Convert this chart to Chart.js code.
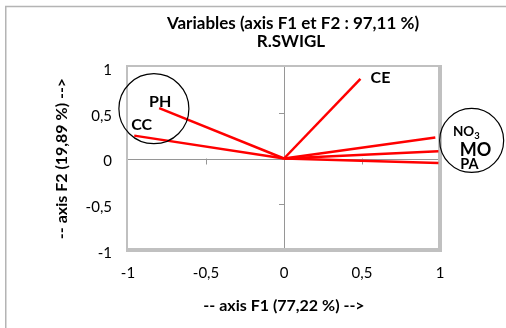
<!DOCTYPE html>
<html><head><meta charset="utf-8">
<script src="https://cdn.jsdelivr.net/npm/chart.js@4"></script>
<style>html,body{margin:0;padding:0;background:#fff}#wrap{width:506px;height:328px}</style>
</head><body><div id="wrap"><canvas id="c" width="506" height="328"></canvas></div>
<script>
// ---- data ----
const variables = ['PH', 'CC', 'CE', 'NO3', 'MO', 'PA'];
const f1 = [-0.80, -0.96, 0.49, 0.97, 0.99, 0.99];
const f2 = [0.55, 0.25, 0.87, 0.23, 0.08, -0.05];
const xTicks = [-1, -0.5, 0, 0.5, 1];
const yTicks = [-1, -0.5, 0, 0.5, 1];
const titleLines = ['Variables (axis F1 et F2 : 97,11 %)', 'R.SWIGL'];
const xTitle = '-- axis F1 (77,22 %) -->';
const yTitle = '-- axis F2 (19,89 %) -->';

// ---- styles ----
const FONT = 'Lato, "Open Sans", sans-serif';
const labelStyle = {
  PH: {dx: 1, dy: -6, size: 16},
  CC: {dx: 7.5, dy: -11, size: 16},
  CE: {dx: 20, dy: -1, size: 16},
  NO3: {dx: 31, dy: -6, size: 13.5},
  MO: {dx: 37, dy: -1, size: 18},
  PA: {dx: 31, dy: 1.5, size: 14.5}
};
const circles = [
  {cx: -0.834, cy: 0.544, r: 35},
  {cx: 1.203, cy: 0.197, r: 32}
];

const fmt = v => String(v).replace('.', ',');

const datasets = variables.map((name, i) => ({
  label: name,
  data: [{x: 0, y: 0}, {x: f1[i], y: f2[i]}],
  showLine: true,
  borderColor: '#ff0000',
  borderWidth: 2.5,
  pointRadius: 0,
  fill: false
}));

const decor = {
  id: 'decor',
  beforeDraw(chart) {
    const ctx = chart.ctx;
    ctx.save();
    ctx.fillStyle = '#fff';
    ctx.fillRect(0, 0, chart.width, chart.height);
    // outer chart border (top + left)
    ctx.strokeStyle = '#b4b4b4';
    ctx.lineWidth = 1.5;
    ctx.beginPath();
    ctx.moveTo(5.75, chart.height);
    ctx.lineTo(5.75, 6.5);
    ctx.lineTo(chart.width, 6.5);
    ctx.stroke();
    // title
    ctx.fillStyle = '#000';
    ctx.textAlign = 'center';
    ctx.textBaseline = 'alphabetic';
    ctx.font = 'bold 17px ' + FONT;
    ctx.fillText(titleLines[0], 293, 29);
    ctx.fillText(titleLines[1], 291, 47);
    ctx.restore();
  },
  beforeDatasetsDraw(chart) {
    const ctx = chart.ctx, xs = chart.scales.x, ys = chart.scales.y;
    const a = chart.chartArea;
    const x0 = xs.getPixelForValue(0), y0 = ys.getPixelForValue(0);
    ctx.save();
    // plot border
    ctx.strokeStyle = '#c0c0c0';
    ctx.lineWidth = 2;
    ctx.beginPath();
    ctx.moveTo(a.left - 1, a.bottom);
    ctx.lineTo(a.left - 1, a.top - 1);
    ctx.lineTo(a.right, a.top - 1);
    ctx.stroke();
    ctx.lineWidth = 4;
    ctx.beginPath();
    ctx.moveTo(a.right, a.top - 2);
    ctx.lineTo(a.right, a.bottom);
    ctx.lineTo(a.left - 2, a.bottom);
    ctx.stroke();
    // zero axes
    ctx.strokeStyle = '#969696';
    ctx.lineWidth = 1;
    ctx.beginPath();
    ctx.moveTo(a.left, Math.round(y0) + 0.5);
    ctx.lineTo(a.right - 2, Math.round(y0) + 0.5);
    ctx.moveTo(Math.round(x0) + 0.5, a.top);
    ctx.lineTo(Math.round(x0) + 0.5, a.bottom - 2);
    xTicks.forEach(v => {
      if (v === 0 || v === xTicks[0] || v === xTicks[xTicks.length - 1]) return;
      const px = Math.round(xs.getPixelForValue(v)) + 0.5;
      ctx.moveTo(px, y0);
      ctx.lineTo(px, y0 + 6);
    });
    yTicks.forEach(v => {
      if (v === 0 || v === yTicks[0] || v === yTicks[yTicks.length - 1]) return;
      const py = Math.round(ys.getPixelForValue(v)) + 0.5;
      ctx.moveTo(x0, py);
      ctx.lineTo(x0 - 5, py);
    });
    ctx.stroke();
    ctx.restore();
  },
  afterDatasetsDraw(chart) {
    const ctx = chart.ctx, xs = chart.scales.x, ys = chart.scales.y;
    ctx.save();
    ctx.fillStyle = '#000';
    ctx.textAlign = 'center';
    ctx.textBaseline = 'middle';
    variables.forEach((name, i) => {
      const s = labelStyle[name];
      const px = xs.getPixelForValue(f1[i]) + s.dx;
      const py = ys.getPixelForValue(f2[i]) + s.dy;
      ctx.font = 'bold ' + s.size + 'px ' + FONT;
      const m = name.match(/^([A-Za-z]+)(\d+)$/);
      if (m) {
        const main = m[1], sub = m[2];
        const subFont = 'bold ' + (s.size * 0.7) + 'px ' + FONT;
        const w1 = ctx.measureText(main).width;
        ctx.font = subFont;
        const w2 = ctx.measureText(sub).width;
        const left = px - (w1 + w2) / 2;
        ctx.textAlign = 'left';
        ctx.font = 'bold ' + s.size + 'px ' + FONT;
        ctx.fillText(main, left, py);
        ctx.font = subFont;
        ctx.fillText(sub, left + w1, py + s.size * 0.3);
        ctx.textAlign = 'center';
      } else {
        ctx.fillText(name, px, py);
      }
    });
    // circles
    ctx.strokeStyle = '#000';
    ctx.lineWidth = 1.2;
    circles.forEach(c => {
      ctx.beginPath();
      ctx.arc(xs.getPixelForValue(c.cx), ys.getPixelForValue(c.cy), c.r, 0, Math.PI * 2);
      ctx.stroke();
    });
    ctx.restore();
  }
};

new Chart(document.getElementById('c'), {
  type: 'scatter',
  data: {datasets},
  options: {
    responsive: false,
    devicePixelRatio: 1,
    animation: false,
    layout: {padding: {left: 0, top: 67, right: 66, bottom: 0}},
    plugins: {legend: {display: false}, tooltip: {enabled: false}, title: {display: false}},
    scales: {
      x: {
        type: 'linear', min: -1, max: 1,
        afterBuildTicks: s => { s.ticks = xTicks.map(v => ({value: v})); },
        afterFit: s => { s.height = 78; },
        grid: {display: false, drawTicks: false},
        border: {display: false},
        ticks: {padding: 14, color: '#000', font: {family: FONT, size: 15}, callback: v => fmt(v), maxRotation: 0},
        title: {display: true, text: xTitle, color: '#000', font: {family: FONT, size: 16, weight: 'bold'}, padding: {top: 0, bottom: 13}}
      },
      y: {
        type: 'linear', min: -1, max: 1,
        afterBuildTicks: s => { s.ticks = yTicks.map(v => ({value: v})); },
        afterFit: s => { s.width = 128; },
        grid: {display: false, drawTicks: false},
        border: {display: false},
        ticks: {padding: 16, labelOffset: 3, color: '#000', font: {family: FONT, size: 15}, callback: v => fmt(v)},
        title: {display: true, text: yTitle, color: '#000', font: {family: FONT, size: 16, weight: 'bold'}, padding: {top: 52, bottom: 0}}
      }
    }
  },
  plugins: [decor]
});
</script>
</body></html>
